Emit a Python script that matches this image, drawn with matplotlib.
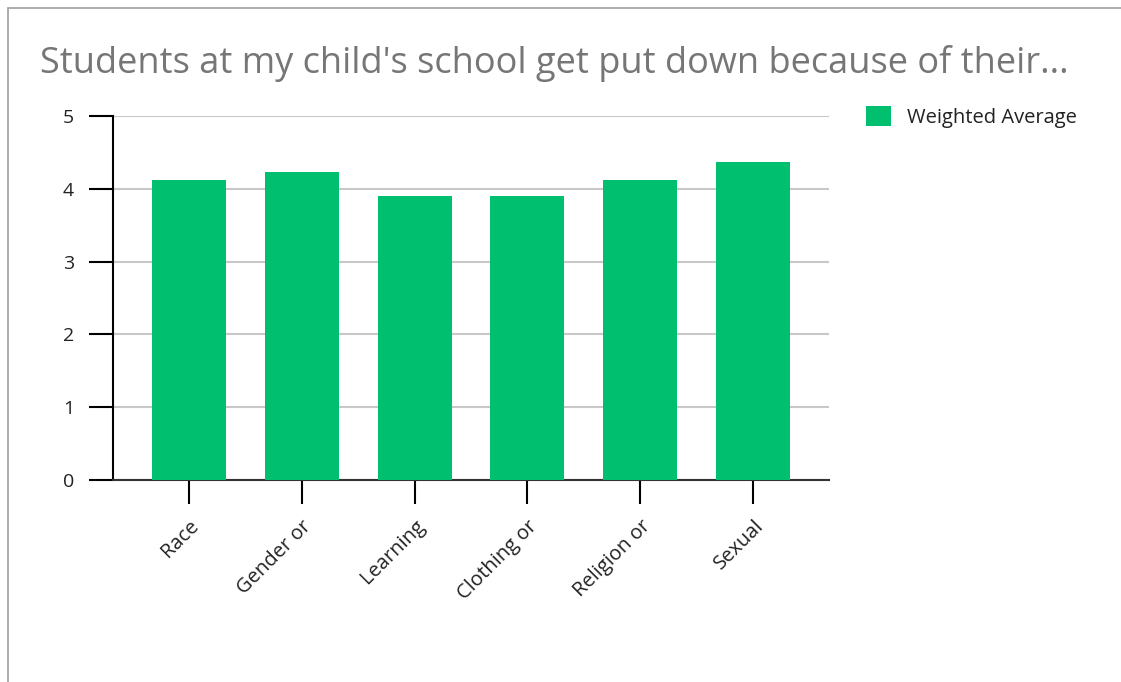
import matplotlib
matplotlib.use("Agg")
import matplotlib.pyplot as plt
from matplotlib.patches import Rectangle

categories = ["Race", "Gender or", "Learning", "Clothing or", "Religion or", "Sexual"]
weighted_avg = [4.12, 4.23, 3.90, 3.90, 4.12, 4.37]
yticks = [0, 1, 2, 3, 4, 5]

green = "#00bf6f"
plt.rcParams["font.family"] = ["Open Sans", "DejaVu Sans"]

fig = plt.figure(figsize=(11.21, 6.82), dpi=100)

# light frame around the card
fig.patches.append(Rectangle((8 / 1121, -0.05), 1.1, 1 - 8 / 682 + 0.05,
                             transform=fig.transFigure, fill=False,
                             edgecolor="#a0a0a0", lw=1.2))

fig.text(40 / 1121, 1 - 63 / 682, "Students at my child's school get put down because of their...",
         fontsize=26, color="#767676", va="center", ha="left")

ax = fig.add_axes([113 / 1121, 202 / 682, 716 / 1121, 364 / 682])
x = list(range(len(categories)))
ax.bar(x, weighted_avg, width=0.655, color=green, label="Weighted Average", zorder=3)

ax.set_xlim(-0.67, len(categories) - 1 + 0.67)
ax.set_ylim(0, 5)
ax.set_yticks(yticks)
ax.set_xticks(x)
ax.set_xticklabels(categories, rotation=45, ha="right", rotation_mode="anchor")

ax.grid(axis="y", color="#c8c8c8", lw=1.5, zorder=0)
for s in ["top", "right"]:
    ax.spines[s].set_visible(False)
ax.spines["left"].set_color("black")
ax.spines["left"].set_linewidth(1.5)
ax.spines["bottom"].set_color("#333333")
ax.spines["bottom"].set_linewidth(1.5)
ax.tick_params(axis="y", length=17, width=1.5, pad=11, labelsize=14, labelcolor="#222222")
ax.tick_params(axis="x", length=17, width=1.5, pad=9, labelsize=14.5, labelcolor="#222222")

leg = ax.legend(loc="upper left", bbox_to_anchor=(1.027, 1.078), frameon=False,
                fontsize=14.5, handlelength=1.2, handleheight=1.2, handletextpad=0.8,
                labelcolor="#222222")

fig.savefig("out.png", dpi=100, facecolor="white")
